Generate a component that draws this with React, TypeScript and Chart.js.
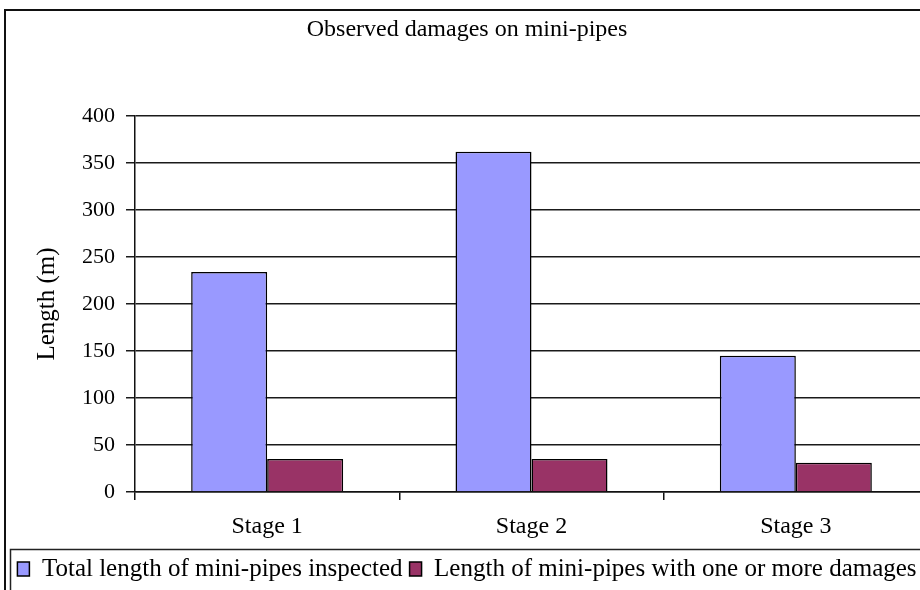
import React, { useEffect, useRef } from "react";
import { Chart, registerables } from "chart.js";

Chart.register(...registerables);

const categories = ["Stage 1", "Stage 2", "Stage 3"];
const totalInspected = [234, 362, 145];
const withDamages = [35, 35, 31];
const yTicks = [0, 50, 100, 150, 200, 250, 300, 350, 400];

const SERIF = "'Liberation Serif', 'Times New Roman', serif";

const framePlugin = {
  id: "frame",
  beforeDraw(chart: any) {
    const { ctx, width, height } = chart;
    ctx.save();
    ctx.fillStyle = "#ffffff";
    ctx.fillRect(0, 0, width, height);
    ctx.restore();
  },
  afterDraw(chart: any) {
    const { ctx, width, height, legend } = chart;
    ctx.save();
    ctx.strokeStyle = "#111";
    ctx.lineWidth = 2;
    ctx.strokeRect(5, 10, width - 13, height - 12);
    if (legend) {
      ctx.lineWidth = 1.5;
      ctx.strokeStyle = "#222";
      ctx.strokeRect(10.5, legend.top, width - 24, height - legend.top + 10);
    }
    ctx.restore();
  },
};

export default function App() {
  const ref = useRef<HTMLCanvasElement | null>(null);

  useEffect(() => {
    if (!ref.current) return;
    const chart = new Chart(ref.current, {
      type: "bar",
      data: {
        labels: categories,
        datasets: [
          {
            label: "Total length of mini-pipes inspected",
            data: totalInspected,
            backgroundColor: "#9999FF",
            borderColor: "#000000",
            borderWidth: 1.5,
          },
          {
            label: "Length of mini-pipes with one or more damages",
            data: withDamages,
            backgroundColor: "#993366",
            borderColor: "#000000",
            borderWidth: 1.5,
          },
        ],
      },
      options: {
        animation: false,
        responsive: true,
        maintainAspectRatio: false,
        layout: { padding: { left: 6, right: 12, top: 10, bottom: 8.5 } },
        datasets: {
          bar: { categoryPercentage: 0.575, barPercentage: 1.0 },
        } as any,
        plugins: {
          title: {
            display: true,
            text: "Observed damages on mini-pipes",
            color: "#000",
            font: { family: SERIF, size: 24, weight: "normal" },
            padding: { top: 5.6, bottom: 71.6 },
          },
          legend: {
            display: true,
            position: "bottom",
            labels: {
              color: "#000",
              font: { family: SERIF, size: 25 },
              boxWidth: 12,
              boxHeight: 14,
              padding: 7,
            },
          },
          tooltip: { enabled: false },
        },
        scales: {
          x: {
            grid: {
              display: true,
              drawOnChartArea: false,
              drawTicks: true,
              tickLength: 8,
              color: "#111",
              lineWidth: 1.5,
              offset: true,
            },
            border: { display: true, color: "#111", width: 1.5 },
            ticks: {
              color: "#000",
              font: { family: SERIF, size: 24 },
              padding: 12,
              maxRotation: 0,
            },
            afterFit(scale: any) {
              scale.height = 57.5;
            },
          },
          y: {
            min: 0,
            max: 400,
            afterBuildTicks(scale: any) {
              scale.ticks = yTicks.map((v) => ({ value: v }));
            },
            grid: {
              color: "#1a1a1a",
              lineWidth: 1.5,
              drawTicks: true,
              tickLength: 9,
            },
            border: { display: true, color: "#111", width: 1.5 },
            ticks: {
              color: "#000",
              font: { family: SERIF, size: 22 },
              padding: 11,
            },
            title: {
              display: true,
              text: "Length (m)",
              color: "#000",
              font: { family: SERIF, size: 25 },
              padding: { top: 26, bottom: 0 },
            },
            afterFit(scale: any) {
              scale.width = 129;
            },
          },
        },
      },
      plugins: [framePlugin],
    });
    return () => chart.destroy();
  }, []);

  return (
    <div
      style={{
        position: "fixed",
        left: 0,
        top: 0,
        width: 920,
        height: 590,
        overflow: "hidden",
        background: "#fff",
      }}
    >
      <div style={{ position: "relative", width: 940, height: 600 }}>
        <canvas ref={ref} />
      </div>
    </div>
  );
}
